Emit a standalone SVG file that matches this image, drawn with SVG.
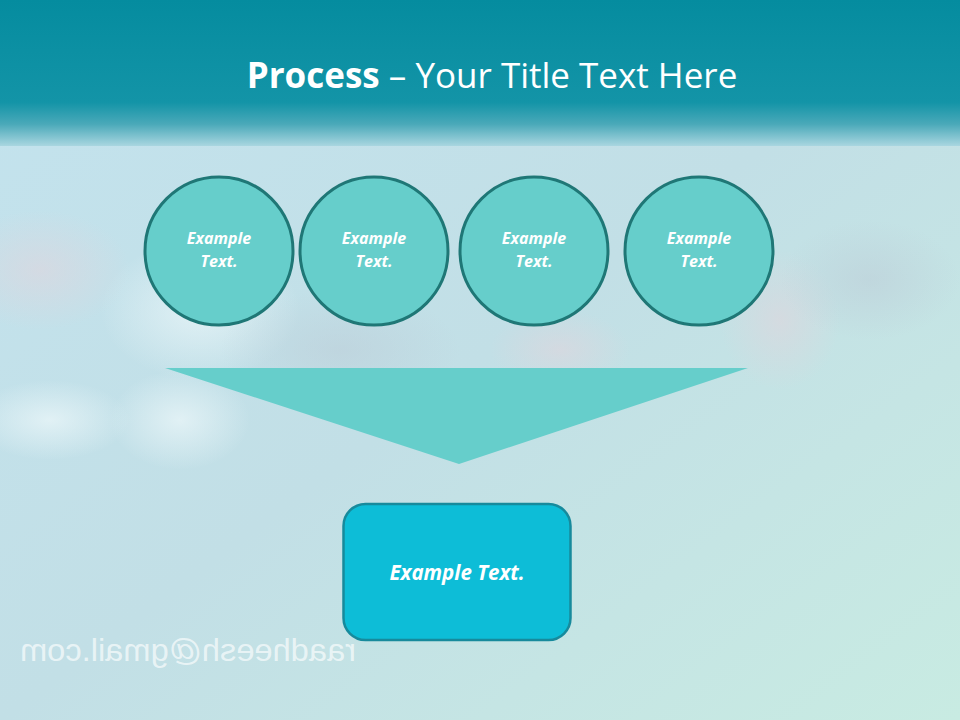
<svg xmlns="http://www.w3.org/2000/svg" width="960" height="720" viewBox="0 0 960 720">
<defs>
<linearGradient id="bg" x1="0" y1="0" x2="1" y2="1">
<stop offset="0" stop-color="#c3e3ee"/>
<stop offset="0.5" stop-color="#c2dfe6"/>
<stop offset="1" stop-color="#c8ebe2"/>
</linearGradient>
<linearGradient id="hdr" x1="0" y1="0" x2="0" y2="1">
<stop offset="0" stop-color="#058c9f"/>
<stop offset="0.7" stop-color="#1394a7"/>
<stop offset="0.85" stop-color="#4aa9b9"/>
<stop offset="1" stop-color="#a9d6e0"/>
</linearGradient>
<radialGradient id="pink" cx="0.5" cy="0.5" r="0.5">
<stop offset="0" stop-color="#e2d4dc" stop-opacity="0.55"/>
<stop offset="1" stop-color="#e2d4dc" stop-opacity="0"/>
</radialGradient>
<radialGradient id="white" cx="0.5" cy="0.5" r="0.5">
<stop offset="0" stop-color="#eef8fa" stop-opacity="0.7"/>
<stop offset="1" stop-color="#eef8fa" stop-opacity="0"/>
</radialGradient>
<radialGradient id="grey" cx="0.5" cy="0.5" r="0.5">
<stop offset="0" stop-color="#bccbd6" stop-opacity="0.5"/>
<stop offset="1" stop-color="#bccbd6" stop-opacity="0"/>
</radialGradient>
<style>
.circ{fill:#66cecb;stroke:#1f7776;stroke-width:3}
.lbl{font-family:"Open Sans","Liberation Sans",sans-serif;font-weight:bold;font-style:italic;fill:#ffffff;text-anchor:middle}
.title{font-family:"Open Sans","Liberation Sans",sans-serif;fill:#ffffff;font-size:35px;text-anchor:middle}
</style>
</defs>
<rect x="0" y="0" width="960" height="720" fill="url(#bg)"/>
<ellipse cx="40" cy="270" rx="90" ry="60" fill="url(#pink)"/>
<ellipse cx="200" cy="310" rx="100" ry="70" fill="url(#white)"/>
<ellipse cx="180" cy="420" rx="70" ry="50" fill="url(#white)"/>
<ellipse cx="50" cy="420" rx="80" ry="40" fill="url(#white)"/>
<ellipse cx="780" cy="320" rx="60" ry="70" fill="url(#pink)"/>
<ellipse cx="870" cy="280" rx="90" ry="60" fill="url(#grey)"/>
<ellipse cx="560" cy="350" rx="70" ry="40" fill="url(#pink)"/>
<ellipse cx="340" cy="350" rx="120" ry="60" fill="url(#grey)"/>
<rect x="0" y="0" width="960" height="146" fill="url(#hdr)"/>
<text class="title" x="492" y="88"><tspan font-weight="bold">Process</tspan> – Your Title Text Here</text>
<text x="0" y="0" transform="translate(356,661) scale(-1,1)" font-family="Liberation Sans,Arial,sans-serif" font-size="32" fill="#ffffff" fill-opacity="0.65" textLength="336" lengthAdjust="spacingAndGlyphs">raadheesh@gmail.com</text>
<g id="connectors">
<polygon points="165,368 748,368 459,464" fill="#66cecb"/>
</g>
<g id="step1"><circle class="circ" cx="219" cy="251" r="74"/><text class="lbl" font-size="16" x="219" y="244">Example</text><text class="lbl" font-size="16" x="219" y="267">Text.</text></g>
<g id="step2"><circle class="circ" cx="374" cy="251" r="74"/><text class="lbl" font-size="16" x="374" y="244">Example</text><text class="lbl" font-size="16" x="374" y="267">Text.</text></g>
<g id="step3"><circle class="circ" cx="534" cy="251" r="74"/><text class="lbl" font-size="16" x="534" y="244">Example</text><text class="lbl" font-size="16" x="534" y="267">Text.</text></g>
<g id="step4"><circle class="circ" cx="699" cy="251" r="74"/><text class="lbl" font-size="16" x="699" y="244">Example</text><text class="lbl" font-size="16" x="699" y="267">Text.</text></g>
<g id="result"><rect x="343.5" y="504" width="227" height="136" rx="22" fill="#0dbdd7" stroke="#178a9c" stroke-width="2.5"/><text class="lbl" font-size="20.5" x="457" y="580">Example Text.</text></g>
</svg>
